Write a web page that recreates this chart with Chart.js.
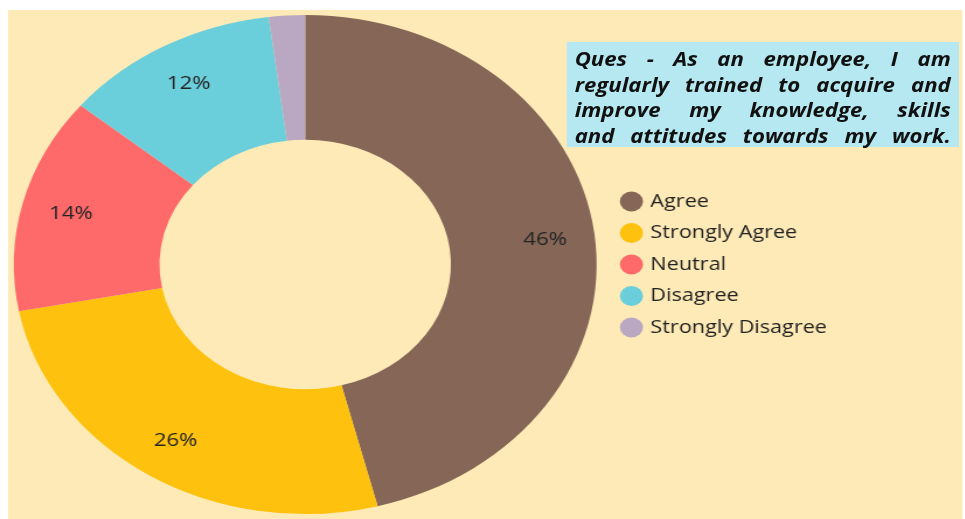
<!DOCTYPE html>
<html>
<head>
<meta charset="utf-8">
<script src="https://cdn.jsdelivr.net/npm/chart.js@4.4.1/dist/chart.umd.min.js"></script>
<style>
    html, body {
        margin: 0;
        padding: 0;
        background: #ffffff;
        overflow: hidden;
    }
    /* whole figure is drawn narrow and then widened */
    #pagina {
        position: absolute;
        left: 0;
        top: 0;
        width: 826px;
        height: 519px;
        transform: scaleX(1.168);
        transform-origin: 0 0;
    }
    #painel {
        position: absolute;
        left: 7px;
        top: 10px;
        width: 817px;
        height: 509px;
        background: #feeab6;
    }
    #grafico-wrap {
        position: absolute;
        left: 0;
        top: 0;
        width: 826px;
        height: 519px;
    }
    #pergunta {
        position: absolute;
        left: 485px;
        top: 42px;
        width: 336px;
        height: 105px;
        box-sizing: border-box;
        padding: 5px 7px 0 7px;
        background: #b5e8f0;
        font-family: "Open Sans", sans-serif;
        font-weight: bold;
        font-style: italic;
        font-size: 19px;
        line-height: 25.6px;
        color: #111111;
    }
    #pergunta div {
        text-align: justify;
        text-align-last: justify;
        white-space: nowrap;
        height: 25.6px;
    }
</style>
</head>
<body>
<div id="pagina">
    <div id="painel"></div>
    <div id="grafico-wrap"><canvas id="grafico-respostas"></canvas></div>
    <div id="pergunta">
        <div>Ques - As an employee, I am</div>
        <div>regularly trained to acquire and</div>
        <div>improve my knowledge, skills</div>
        <div>and attitudes towards my work.</div>
    </div>
</div>
<script>
const categorias = ['Agree', 'Strongly Agree', 'Neutral', 'Disagree', 'Strongly Disagree'];
const percentuais = [46, 26, 14, 12, 2];
const cores = ['#856657', '#fec10e', '#fe6a6a', '#6bcedb', '#baa8c2'];

// escreve o % dentro de cada fatia (menos as muito pequenas)
const rotulosFatias = {
    id: 'rotulosFatias',
    afterDatasetsDraw(chart) {
        const ctx = chart.ctx;
        const meta = chart.getDatasetMeta(0);
        ctx.save();
        ctx.font = '19px "Open Sans"';
        ctx.fillStyle = '#242424';
        ctx.textAlign = 'center';
        ctx.textBaseline = 'middle';
        meta.data.forEach((arc, i) => {
            const valor = percentuais[i];
            if (valor < 5) return;
            const p = arc.getProps(['x', 'y', 'startAngle', 'endAngle', 'innerRadius', 'outerRadius'], true);
            const meio = (p.startAngle + p.endAngle) / 2;
            const r = p.innerRadius + 0.66 * (p.outerRadius - p.innerRadius);
            ctx.fillText(valor + '%', p.x + Math.cos(meio) * r, p.y + 1 + Math.sin(meio) * r);
        });
        ctx.restore();
    }
};

const ctx = document.getElementById('grafico-respostas').getContext('2d');
new Chart(ctx, {
    type: 'doughnut',
    data: {
        labels: categorias,
        datasets: [{
            data: percentuais,
            backgroundColor: cores,
            borderWidth: 0
        }]
    },
    options: {
        responsive: true,
        maintainAspectRatio: false,
        animation: false,
        cutout: '50%',
        layout: {
            padding: { left: 2, right: 108, top: 15, bottom: 5 }
        },
        plugins: {
            tooltip: { enabled: false },
            legend: {
                display: true,
                position: 'right',
                labels: {
                    usePointStyle: true,
                    pointStyle: 'circle',
                    boxWidth: 14,
                    boxHeight: 14,
                    padding: 13,
                    color: '#222222',
                    font: { family: '"Open Sans"', size: 18.5 }
                }
            }
        }
    },
    plugins: [rotulosFatias]
});
</script>
</body>
</html>
